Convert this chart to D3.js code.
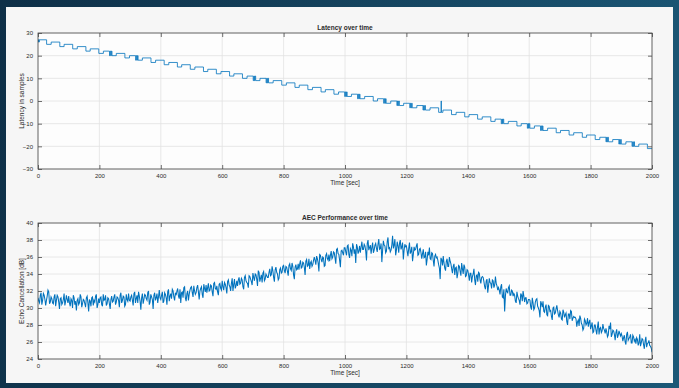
<!DOCTYPE html>
<html>
<head>
<meta charset="utf-8">
<script src="https://cdn.jsdelivr.net/npm/d3@7"></script>
<style>
  html, body { margin: 0; padding: 0; }
  body { width: 679px; height: 388px; overflow: hidden;
         background: linear-gradient(100deg, #0e2f47 0%, #15445f 50%, #1b5877 100%); }
  svg { position: absolute; left: 0; top: 0; }
  text { font-family: "Liberation Sans", Arial, sans-serif; fill: #2b2b2b; }
  .title { font-weight: bold; font-size: 6.5px; }
  .tick text { font-size: 6px; }
  .lab { font-size: 6.5px; }
</style>
</head>
<body>
<script>
// ---- data ----
// latency estimate (samples), steps change at these times (sec)
var latencyTime = [
  0, 1, 2, 3, 4, 28,
  43, 71, 85, 113, 128, 156, 170, 198,
  213, 233, 235, 237, 239, 241,
  255, 283,
  298, 318, 320, 322, 324, 326,
  340, 368, 383, 411, 426, 454, 468, 496, 511, 539, 553, 581, 596, 624, 638, 666,
  681, 701, 703, 705, 707, 709,
  723, 743, 745, 747, 749, 751,
  766, 794, 809, 837, 851, 879, 894, 922, 936, 964,
  979, 999, 1001, 1003, 1005, 1007,
  1021, 1041, 1043, 1045, 1047, 1049,
  1064, 1092,
  1106, 1126, 1128, 1130, 1132, 1134,
  1149, 1169, 1171, 1173, 1175, 1177,
  1191, 1211, 1213, 1215, 1217, 1219,
  1234, 1254, 1256, 1258, 1260, 1262,
  1277, 1305, 1313, 1314,
  1319, 1347, 1362, 1390, 1404, 1432, 1447, 1475,
  1489, 1509, 1511, 1513, 1515, 1517,
  1532, 1560,
  1574, 1594, 1596, 1598, 1600, 1602,
  1617, 1637, 1639, 1641, 1643, 1645,
  1660, 1688, 1702, 1730, 1745, 1773, 1787, 1815,
  1830, 1850, 1852, 1854, 1856, 1858,
  1872, 1892, 1894, 1896, 1898, 1900,
  1915, 1935, 1937, 1939, 1941, 1943,
  1957, 1985, 2000
];
var latencyValue = [
  27, 26, 27, 26, 27, 25,
  26, 24, 25, 23, 24, 22, 23, 21,
  22, 20, 22, 20, 22, 20,
  21, 19,
  20, 18, 20, 18, 20, 18,
  19, 17, 18, 16, 17, 15, 16, 14, 15, 13, 14, 12, 13, 11, 12, 10,
  11, 9, 11, 9, 11, 9,
  10, 8, 10, 8, 10, 8,
  9, 7, 8, 6, 7, 5, 6, 4, 5, 3,
  4, 2, 4, 2, 4, 2,
  3, 1, 3, 1, 3, 1,
  2, 0,
  1, -1, 1, -1, 1, -1,
  0, -2, 0, -2, 0, -2,
  -1, -3, -1, -3, -1, -3,
  -2, -4, -2, -4, -2, -4,
  -3, -5, 0, -5,
  -4, -6, -5, -7, -6, -8, -7, -9,
  -8, -10, -8, -10, -8, -10,
  -9, -11,
  -10, -12, -10, -12, -10, -12,
  -11, -13, -11, -13, -11, -13,
  -12, -14, -13, -15, -14, -16, -15, -17,
  -16, -18, -16, -18, -16, -18,
  -17, -19, -17, -19, -17, -19,
  -18, -20, -18, -20, -18, -20,
  -19, -21, -21
];

// echo cancellation (dB): aecValue at t = 0, 5, 10 ... 2000,
// aecMid at the half steps t = 2.5, 7.5 ... 1997.5
var aecStep = 5;
var aecValue = [
  31.2, 30.6, 31.8, 30.9, 31.5, 30.3, 31.4, 31.9, 30.7, 31.1,
  30.5, 31.6, 30.9, 31.3, 29.9, 31.2, 30.6, 31.7, 30.8, 31.0,
  31.4, 30.2, 30.9, 31.5, 30.4, 29.7, 31.1, 30.6, 31.3, 30.5,
  30.9, 30.1, 31.4, 29.6, 30.8, 31.2, 30.3, 30.7, 31.6, 30.4,
  30.6, 31.3, 30.2, 30.9, 31.5, 30.5, 31.1, 29.9, 31.4, 30.8,
  31.6, 30.7, 31.2, 30.1, 31.8, 30.9, 31.3, 30.4, 31.0, 31.7,
  30.8, 31.5, 30.3, 31.9, 31.1, 30.6, 31.4, 29.8, 31.7, 31.0,
  31.5, 30.9, 32.0, 30.7, 31.3, 29.9, 31.8, 31.2, 30.6, 32.1,
  31.0, 31.9, 30.8, 31.6, 30.4, 32.2, 31.4, 31.1, 32.0, 30.9,
  31.5, 32.3, 31.1, 30.6, 31.9, 32.4, 31.2, 31.7, 30.9, 32.1,
  32.5, 31.3, 32.0, 31.8, 32.7, 31.0, 32.3, 31.6, 32.8, 31.9,
  31.8, 32.9, 32.1, 32.6, 31.4, 33.0, 32.2, 31.9, 32.8, 32.3,
  33.2, 32.1, 32.8, 31.7, 33.3, 32.5, 32.9, 32.0, 33.4, 32.6,
  32.6, 33.6, 32.9, 33.3, 32.2, 33.8, 33.0, 32.4, 33.7, 33.1,
  34.1, 33.2, 33.9, 32.6, 34.2, 33.5, 33.0, 34.3, 33.4, 33.8,
  33.6, 34.6, 33.9, 34.4, 33.1, 34.8, 34.0, 33.5, 34.7, 34.2,
  35.0, 34.1, 34.8, 33.8, 35.2, 34.4, 34.9, 33.4, 35.1, 34.6,
  34.5, 35.6, 34.8, 35.3, 33.9, 35.7, 35.0, 34.6, 35.5, 35.1,
  36.0, 35.1, 35.8, 34.3, 36.2, 35.4, 35.9, 35.0, 36.4, 35.6,
  35.5, 36.7, 36.0, 36.5, 35.2, 37.0, 36.3, 34.8, 36.8, 36.2,
  37.1, 36.2, 37.4, 35.9, 36.8, 37.6, 36.4, 35.3, 37.2, 36.7,
  36.5, 37.8, 36.9, 37.3, 35.6, 38.0, 37.1, 36.4, 37.7, 36.8,
  37.6, 36.6, 38.1, 37.0, 35.4, 37.9, 37.3, 36.7, 38.3, 37.1,
  36.8, 38.5, 37.4, 36.2, 37.8, 36.5, 38.0, 37.2, 35.7, 37.5,
  37.3, 36.1, 37.7, 36.6, 35.5, 37.2, 36.9, 37.6, 36.3, 37.0,
  35.8, 36.9, 36.0, 35.0, 36.6, 37.1, 35.7, 36.4, 34.9, 36.3,
  36.0, 35.1, 33.4, 35.7, 36.1, 34.7, 35.5, 34.9, 36.0, 35.2,
  34.1, 35.2, 34.7, 33.5, 35.0, 34.3, 35.3, 34.0, 34.8, 33.8,
  34.4, 33.2, 34.1, 33.7, 34.6, 32.7, 33.9, 34.2, 33.3, 33.6,
  33.6, 32.5, 33.2, 31.8, 33.5, 32.9, 33.3, 32.4, 33.7, 32.6,
  32.4, 31.6, 32.8, 31.2, 29.6, 32.3, 31.8, 32.6, 31.5, 32.0,
  31.7, 30.8, 31.9, 31.1, 30.4, 31.5, 32.0, 30.7, 31.2, 30.6,
  31.0, 30.1, 31.2, 29.8, 30.7, 31.1, 30.0, 28.9, 30.5, 30.8,
  29.5, 30.4, 29.1, 30.2, 29.7, 28.6, 30.1, 29.4, 30.3, 29.2,
  29.6, 28.7, 29.8, 28.9, 29.4, 28.0, 29.3, 29.7, 28.5, 29.0,
  28.9, 27.8, 28.6, 29.1, 28.2, 27.4, 28.7, 28.0, 28.8, 28.3,
  27.5, 28.3, 27.2, 28.0, 26.9, 28.4, 27.6, 27.1, 28.1, 27.4,
  27.6, 26.6, 27.9, 28.3, 26.9, 27.3, 26.2, 27.5, 26.8, 27.0,
  27.0, 26.1, 26.8, 25.7, 27.2, 26.4, 26.9, 25.9, 26.6, 26.3,
  26.5, 25.6, 26.9, 25.9, 26.3, 25.2, 26.6, 25.8, 26.2, 25.5,
  24.8
];
var aecMid = [
  30.8, 31.5, 30.4, 31.7, 31.0, 30.9, 32.1, 30.5, 31.3, 30.6,
  31.3, 30.2, 31.5, 30.7, 31.1, 30.4, 31.0, 30.3, 31.5, 30.6,
  30.6, 31.1, 30.0, 31.2, 30.8, 30.9, 30.4, 31.6, 30.1, 31.0,
  30.5, 31.2, 30.6, 31.0, 30.2, 31.3, 30.9, 31.4, 30.0, 31.1,
  31.2, 30.4, 31.6, 31.0, 30.3, 31.2, 30.5, 31.0, 30.7, 31.3,
  30.4, 31.3, 30.9, 31.5, 30.6, 31.4, 30.2, 31.6, 30.8, 30.9,
  31.3, 30.9, 31.7, 30.6, 31.5, 31.9, 30.8, 31.2, 30.5, 31.6,
  31.1, 31.8, 30.4, 31.6, 31.0, 31.5, 30.9, 31.7, 31.3, 31.2,
  31.5, 30.6, 31.8, 31.2, 31.9, 30.8, 31.7, 32.2, 31.3, 31.8,
  32.0, 31.4, 32.2, 31.8, 31.2, 32.5, 30.8, 32.0, 31.6, 32.4,
  31.8, 32.6, 31.6, 32.4, 31.9, 32.0, 32.5, 31.2, 32.3, 32.7,
  32.4, 32.0, 32.7, 31.9, 32.9, 32.3, 32.6, 31.5, 32.9, 32.1,
  32.5, 33.0, 32.4, 33.1, 32.7, 32.0, 33.5, 32.8, 32.3, 33.2,
  33.3, 32.8, 33.5, 32.5, 33.6, 33.2, 32.9, 33.8, 33.4, 32.7,
  33.6, 34.0, 33.4, 34.4, 33.1, 33.9, 34.1, 33.2, 34.0, 33.6,
  34.2, 33.8, 34.9, 33.6, 34.5, 34.2, 33.3, 34.5, 34.1, 34.9,
  34.4, 34.9, 34.3, 35.0, 34.6, 35.3, 33.9, 34.8, 34.5, 35.2,
  35.2, 34.7, 35.4, 34.8, 35.5, 34.9, 35.8, 35.3, 34.9, 35.6,
  35.6, 36.1, 35.3, 36.3, 35.7, 36.0, 34.9, 36.2, 35.8, 36.3,
  36.2, 35.8, 36.6, 35.9, 36.9, 36.4, 35.6, 36.7, 36.5, 37.1,
  36.6, 37.3, 36.3, 37.0, 36.1, 37.2, 36.9, 37.5, 36.4, 37.3,
  37.2, 36.9, 37.5, 36.7, 37.6, 36.8, 37.4, 37.1, 36.5, 37.4,
  37.0, 37.5, 36.9, 37.6, 36.8, 37.4, 36.5, 37.8, 37.0, 36.6,
  37.4, 37.0, 38.1, 36.8, 37.3, 37.6, 36.9, 37.7, 36.8, 37.2,
  36.7, 37.0, 36.4, 37.2, 36.3, 36.8, 37.3, 36.2, 36.9, 36.5,
  36.4, 35.9, 36.6, 35.7, 36.2, 35.8, 36.5, 35.6, 36.1, 35.9,
  35.6, 34.7, 35.9, 35.0, 35.3, 34.4, 35.8, 34.9, 35.5, 34.6,
  34.9, 33.9, 34.8, 34.1, 34.9, 33.8, 34.6, 35.1, 33.7, 34.5,
  33.9, 34.1, 33.0, 34.0, 33.3, 33.8, 33.1, 34.1, 32.9, 33.7,
  33.1, 32.2, 33.4, 32.6, 33.0, 32.3, 33.2, 32.7, 32.9, 32.1,
  32.1, 32.5, 31.3, 32.2, 31.4, 31.9, 32.4, 31.5, 32.1, 31.4,
  31.5, 30.6, 31.4, 30.9, 31.7, 30.8, 31.4, 31.2, 30.5, 31.0,
  30.9, 29.8, 30.6, 30.0, 31.0, 30.2, 29.7, 30.8, 30.1, 29.6,
  30.1, 29.2, 30.3, 29.6, 29.0, 30.0, 29.3, 29.9, 29.7, 28.9,
  29.4, 28.6, 29.5, 29.2, 28.4, 29.3, 28.7, 29.6, 28.8, 28.9,
  28.7, 28.4, 27.9, 28.8, 28.0, 27.6, 28.5, 28.2, 27.8, 28.6,
  27.9, 27.1, 28.0, 27.4, 27.8, 26.9, 27.7, 27.3, 27.6, 27.0,
  27.2, 26.8, 27.5, 26.6, 27.4, 26.9, 27.1, 26.5, 27.3, 26.7,
  26.7, 26.5, 26.0, 26.9, 26.2, 26.6, 25.9, 26.8, 26.1, 25.8,
  26.3, 25.9, 25.5, 26.4, 25.7, 26.1, 25.4, 25.9, 25.6, 25.3
];

var xTicks = [0, 200, 400, 600, 800, 1000, 1200, 1400, 1600, 1800, 2000];
var latencyTicks = [-30, -20, -10, 0, 10, 20, 30];
var aecTicks = [24, 26, 28, 30, 32, 34, 36, 38, 40];

// interleave the two halves of the AEC record into one series
var aecSeries = [];
aecMid.forEach(function(v, i) {
  aecSeries.push({t: i * aecStep, v: aecValue[i]});
  aecSeries.push({t: i * aecStep + aecStep / 2, v: v});
});
aecSeries.push({t: aecMid.length * aecStep, v: aecValue[aecMid.length]});

// ---- layout ----
var W = 679, H = 388;
var svg = d3.select("body").append("svg")
    .attr("width", W).attr("height", H);

// figure panel
svg.append("rect")
    .attr("x", 6).attr("y", 7).attr("width", 667).attr("height", 376)
    .attr("fill", "#f6f6f6");

var left = 38, right = 652;

function drawAxes(top, bottom, yDomain, yTicks, title, yLabel, id) {
  var x = d3.scaleLinear().domain([0, 2000]).range([left, right]);
  var y = d3.scaleLinear().domain(yDomain).range([bottom, top]);
  var g = svg.append("g");

  g.append("rect")
      .attr("x", left).attr("y", top)
      .attr("width", right - left).attr("height", bottom - top)
      .attr("fill", "#fdfdfd");

  // grid
  g.append("g").selectAll("line").data(xTicks).join("line")
      .attr("x1", d => x(d)).attr("x2", d => x(d))
      .attr("y1", top).attr("y2", bottom)
      .attr("stroke", "#e2e2e2").attr("stroke-width", 0.8);
  g.append("g").selectAll("line").data(yTicks).join("line")
      .attr("x1", left).attr("x2", right)
      .attr("y1", d => y(d)).attr("y2", d => y(d))
      .attr("stroke", "#e2e2e2").attr("stroke-width", 0.8);

  g.append("clipPath").attr("id", id)
    .append("rect")
      .attr("x", left).attr("y", top)
      .attr("width", right - left).attr("height", bottom - top);

  // axes (ticks pointing inward, on all four sides)
  var tl = 4;
  g.append("g").attr("transform", "translate(0," + bottom + ")")
      .call(d3.axisBottom(x).tickValues(xTicks).tickFormat(d3.format("d"))
            .tickSizeInner(-tl).tickSizeOuter(0).tickPadding(5))
      .call(a => a.select(".domain").remove());
  g.append("g").attr("transform", "translate(0," + top + ")")
      .call(d3.axisTop(x).tickValues(xTicks).tickSizeInner(-tl).tickSizeOuter(0).tickFormat(""))
      .call(a => a.select(".domain").remove());
  g.append("g").attr("transform", "translate(" + left + ",0)")
      .call(d3.axisLeft(y).tickValues(yTicks).tickSizeInner(-tl).tickSizeOuter(0).tickPadding(5))
      .call(a => a.select(".domain").remove());
  g.append("g").attr("transform", "translate(" + right + ",0)")
      .call(d3.axisRight(y).tickValues(yTicks).tickSizeInner(-tl).tickSizeOuter(0).tickFormat(""))
      .call(a => a.select(".domain").remove());
  g.selectAll(".tick line").attr("stroke", "#4a4a4a").attr("stroke-width", 0.8);
  g.selectAll(".tick text").attr("fill", "#2b2b2b");

  // title and labels
  g.append("text").attr("class", "title")
      .attr("x", (left + right) / 2).attr("y", top - 3)
      .attr("text-anchor", "middle").text(title);
  g.append("text").attr("class", "lab")
      .attr("x", (left + right) / 2).attr("y", bottom + 16)
      .attr("text-anchor", "middle").text("Time [sec]");
  g.append("text").attr("class", "lab")
      .attr("transform", "translate(24," + (top + bottom) / 2 + ") rotate(-90)")
      .attr("text-anchor", "middle").text(yLabel);

  return {g: g, x: x, y: y, top: top, bottom: bottom};
}

// Latency plot
var p1 = drawAxes(33, 169, [-30, 30], latencyTicks, "Latency over time", "Latency in samples", "clip1");
var latLine = d3.line()
    .curve(d3.curveStepAfter)
    .x((d, i) => p1.x(latencyTime[i]))
    .y(d => p1.y(d));
p1.g.append("path")
    .attr("clip-path", "url(#clip1)")
    .attr("d", latLine(latencyValue))
    .attr("fill", "none")
    .attr("stroke", "#0072bd")
    .attr("stroke-width", 0.8);

// AEC plot
var p2 = drawAxes(223, 359, [24, 40], aecTicks, "AEC Performance over time", "Echo Cancellation [dB]", "clip2");
var aecLine = d3.line()
    .x(d => p2.x(d.t))
    .y(d => p2.y(d.v));
p2.g.append("path")
    .attr("clip-path", "url(#clip2)")
    .attr("d", aecLine(aecSeries))
    .attr("fill", "none")
    .attr("stroke", "#0072bd")
    .attr("stroke-width", 1.05);

// box outlines
[p1, p2].forEach(function(p) {
  p.g.append("rect")
      .attr("x", left).attr("y", p.top)
      .attr("width", right - left).attr("height", p.bottom - p.top)
      .attr("fill", "none").attr("stroke", "#4a4a4a").attr("stroke-width", 0.8);
});
</script>
</body>
</html>
